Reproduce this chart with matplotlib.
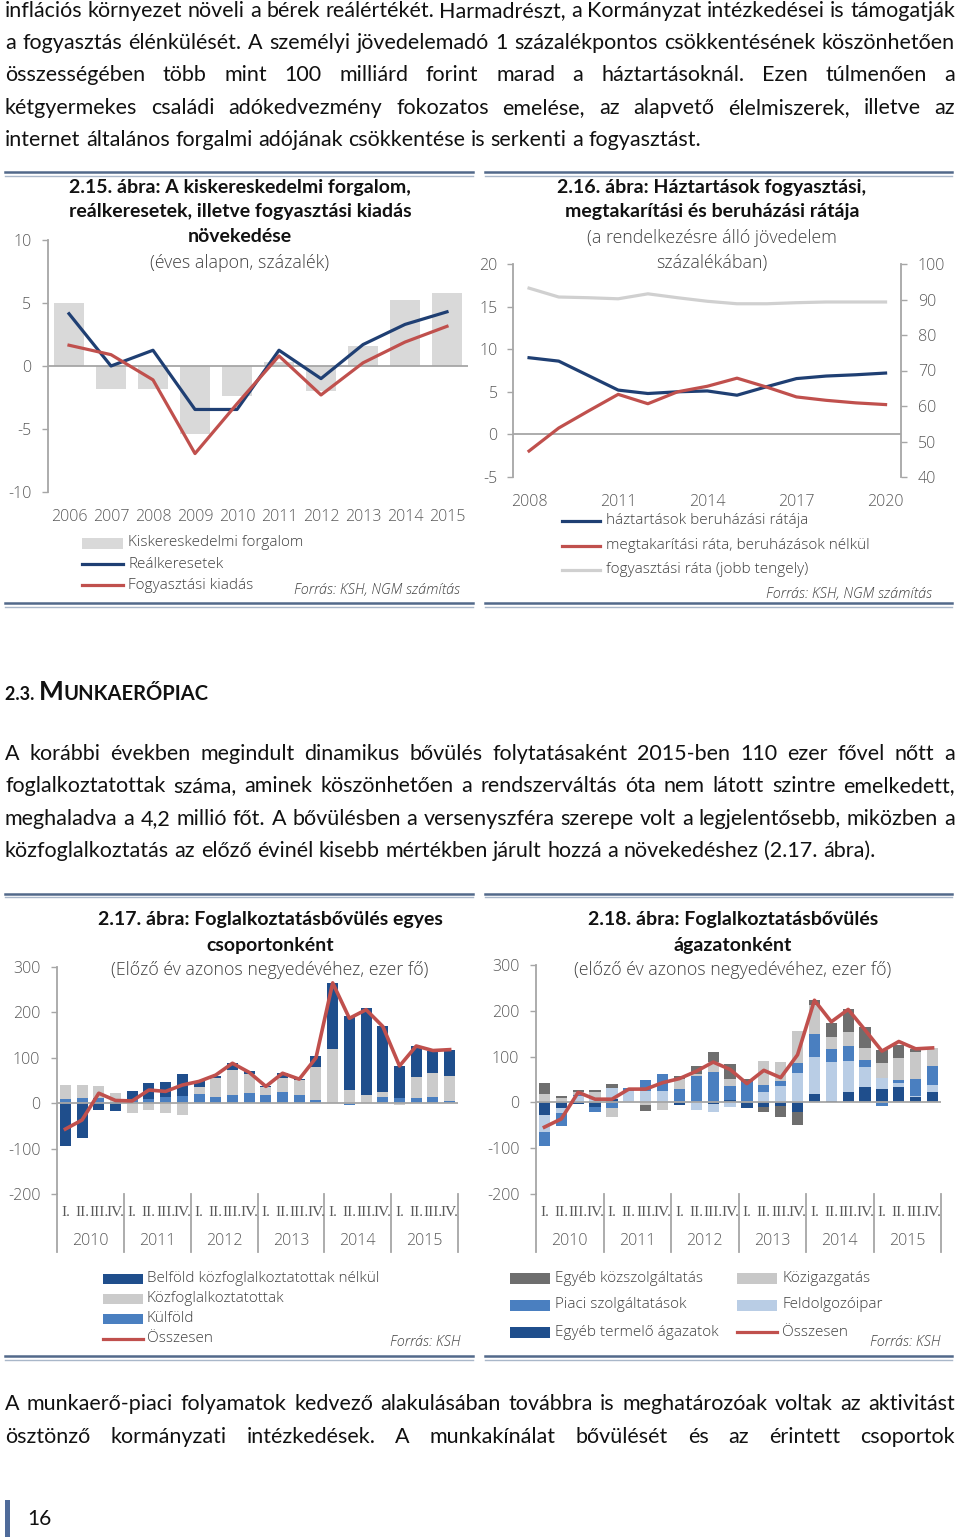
import numpy as np
import matplotlib
matplotlib.use("Agg")
import matplotlib.pyplot as plt
import matplotlib.transforms as mtrans
from matplotlib.patches import Rectangle
from matplotlib.lines import Line2D

plt.rcParams['font.family'] = ['Open Sans', 'DejaVu Sans']
plt.rcParams['font.weight'] = 'light'
plt.rcParams['axes.unicode_minus'] = False

W, H = 960, 1540
BODY = ['Lato', 'DejaVu Sans']
TXT = '#404040'
TICK = '#595959'
AXIS = '#a6a6a6'
NAVY = '#1f3f73'
RED = '#c0504d'
LEG = 11

# ---- 2.15: annual growth, %
years_15 = ['2006', '2007', '2008', '2009', '2010', '2011', '2012', '2013', '2014', '2015']
kiskereskedelmi = [5.0, -1.85, -1.8, -5.4, -2.4, 0.3, -2.0, 1.6, 5.2, 5.8]
realkeresetek = [4.15, 0.0, 1.25, -3.45, -3.45, 1.25, -1.0, 1.7, 3.3, 4.3]
fogyasztasi_kiadas = [1.65, 0.9, -1.1, -6.95, -3.0, 0.8, -2.3, 0.25, 1.9, 3.15]

# ---- 2.16: rates, % of disposable income
years_16 = [2008, 2009, 2010, 2011, 2012, 2013, 2014, 2015, 2016, 2017, 2018, 2019, 2020]
beruhazasi_rata = [9.0, 8.6, 6.9, 5.2, 4.8, 5.0, 5.1, 4.6, 5.6, 6.55, 6.85, 7.0, 7.2]
megtakaritasi_rata = [-1.95, 0.75, 2.75, 4.7, 3.6, 5.0, 5.65, 6.6, 5.55, 4.4, 4.0, 3.7, 3.5]
fogyasztasi_rata = [93.2, 90.7, 90.5, 90.2, 91.6, 90.5, 89.5, 88.8, 88.8, 89.1, 89.3, 89.3, 89.3]

# ---- quarterly axis for 2.17 / 2.18
quarters = ['I.', 'II.', 'III.', 'IV.'] * 6
q_years = ['2010', '2011', '2012', '2013', '2014', '2015']

# ---- 2.17: by group, thousand persons (stack order bottom -> top)
kulfold = [9, 11, 12, 2, 10, 10, 13, 16, 21, 13, 18, 22, 17, 24, 17, 7, 0, -5, 0, 13, 11, 11, 13, 5]
kozfoglalkoztatottak = [30, 28, 26, 20, -21, -15, -21, -25, 14, 42, 55, 42, 18, 31, 34, 72, 119, 28, 17, 11, -4, 46, 53, 55]
belfold = [-94, -76, -16, -18, 16, 34, 33, 49, 14, 6, 15, 7, 2, 11, 2, 25, 146, 163, 193, 147, 71, 68, 50, 58]
osszesen_17 = [-57, -37, 22, 6, 5, 29, 26, 40, 48, 62, 88, 68, 37, 66, 53, 100, 265, 187, 206, 169, 82, 126, 116, 118]

# ---- 2.18: by sector, thousand persons (stack order bottom -> top)
egyeb_termelo = [-27, -12, -3, -9, 8, 0, 0, 0, -5, 0, -3, 5, -13, -11, -7, -20, 18, 4, 23, 33, 30, 33, 12, 23]
feldolgozoipar = [-37, -12, 14, 7, 24, 24, 25, 24, 0, -16, -17, -11, 0, 23, 35, 65, 81, 84, 68, 45, 24, 9, 3, 16]
piaci_szolg = [-32, -27, 3, -12, -12, 8, 23, 37, 29, 58, 66, 30, 44, 15, 11, 20, 50, 29, 32, 14, -7, 7, 37, 41]
kozigazgatas = [19, 10, 6, 15, -20, 0, -6, -16, 22, 5, 22, 17, 0, 52, 42, 70, 63, 25, 31, 27, 31, 49, 57, 38]
egyeb_kozszolg = [23, 5, 5, 6, 8, 0, -12, 0, 7, 17, 23, 31, 8, -11, -25, -29, 11, 32, 50, 46, 30, 27, 7, 0]
osszesen_18 = [-54, -36, 22, 7, 7, 29, 29, 43, 52, 68, 88, 72, 41, 70, 54, 104, 223, 176, 203, 158, 112, 133, 117, 119]

para1 = [
    "inflációs környezet növeli a bérek reálértékét. Harmadrészt, a Kormányzat intézkedései is támogatják",
    "a fogyasztás élénkülését.  A személyi jövedelemadó 1 százalékpontos csökkentésének köszönhetően",
    "összességében több mint 100 milliárd forint marad a háztartásoknál. Ezen túlmenően a",
    "kétgyermekes családi adókedvezmény fokozatos emelése, az alapvető élelmiszerek, illetve az",
    "internet általános forgalmi adójának csökkentése is serkenti a fogyasztást.",
]
para2 = [
    "A korábbi években megindult dinamikus bővülés folytatásaként 2015-ben 110 ezer fővel nőtt a",
    "foglalkoztatottak száma, aminek köszönhetően a rendszerváltás óta nem látott szintre emelkedett,",
    "meghaladva a 4,2 millió főt. A bővülésben a versenyszféra szerepe volt a legjelentősebb, miközben a",
    "közfoglalkoztatás az előző évinél kisebb mértékben járult hozzá a növekedéshez (2.17. ábra).",
]
para3 = [
    "A munkaerő-piaci folyamatok kedvező alakulásában továbbra is meghatározóak voltak az aktivitást",
    "ösztönző kormányzati intézkedések. A munkakínálat bővülését és az érintett csoportok",
]

fig = plt.figure(figsize=(W / 100, H / 100), dpi=100)
fig.patch.set_facecolor('white')
rend = fig.canvas.get_renderer()


def ftext(x, y, s, **kw):
    return fig.text(x / W, 1 - y / H, s, **kw)


def px_axes(x0, y0, x1, y1):
    return fig.add_axes([x0 / W, 1 - y1 / H, (x1 - x0) / W, (y1 - y0) / H])


def width_of(s, size, **kw):
    t = ftext(0, 0, s, fontsize=size, **kw)
    w = t.get_window_extent(rend).width
    t.remove()
    return w


# body text size from the natural width of a non-justified line
body_size = 10 * 693 / width_of(para1[-1], 10, family=BODY, weight='normal')
space_w = (width_of('n n', body_size, family=BODY, weight='normal')
           - width_of('nn', body_size, family=BODY, weight='normal'))


def body_line(s, y, justify=True, x0=5, x1=955):
    words = s.split()
    ts = [ftext(x0, y, w, fontsize=body_size, family=BODY, weight='normal', va='center',
                color='#111111') for w in words]
    ws = [t.get_window_extent(rend).width for t in ts]
    gap = (x1 - x0 - sum(ws)) / (len(words) - 1) if justify else space_w
    x = x0
    for t, w in zip(ts, ws):
        t.set_x(x / W)
        x += w + gap


for i, line in enumerate(para1):
    body_line(line, 11 + i * 32.2, justify=(i < len(para1) - 1))
for i, line in enumerate(para2):
    body_line(line, 754 + i * 32.4, justify=(i < len(para2) - 1))
for i, line in enumerate(para3):
    body_line(line, 1404 + i * 33)

# heading with small caps
x = 5
for s, sz in [('2.3. ', 13), ('M', 19), ('UNKAERŐPIAC', 14.5)]:
    t = ftext(x, 700, s, fontsize=sz, family=BODY, weight='bold', va='baseline', color='#111111')
    x += t.get_window_extent(rend).width

# page number
fig.add_artist(Rectangle((5 / W, 1 - 1537 / H), 5 / W, 37 / H, transform=fig.transFigure,
                         color='#4f6b9a', lw=0))
ftext(27, 1519, '16', fontsize=15, family=BODY, weight='normal', va='center', color='#111111')


def rule(x0, x1, y):
    fig.add_artist(Line2D([x0 / W, x1 / W], [1 - y / H] * 2, transform=fig.transFigure,
                          color='#52698a', lw=1.8))
    fig.add_artist(Line2D([x0 / W, x1 / W], [1 - (y + 3.5) / H] * 2, transform=fig.transFigure,
                          color='#a9b7c9', lw=1.0))


for (a, b) in [(5, 473), (485, 952)]:
    rule(a, b, 172)
    rule(a, b, 603)
    rule(a, b, 894)
    rule(a, b, 1356)


def leg_patch(x, y, color, w=41, h=11):
    fig.add_artist(Rectangle((x / W, 1 - (y + h / 2) / H), w / W, h / H,
                             transform=fig.transFigure, color=color, lw=0))


def leg_line(x, y, color, w=41):
    fig.add_artist(Line2D([x / W, (x + w) / W], [1 - y / H] * 2, transform=fig.transFigure,
                          color=color, lw=2.3))


def title(cx, ys, lines, sub):
    for y, s in zip(ys, lines):
        ftext(cx, y, s, fontsize=14, family=BODY, weight='bold', ha='center', va='center',
              color='#111111')
    for y, s in sub:
        ftext(cx, y, s, fontsize=12.8, ha='center', va='center', color=TXT)


def source(x, y, s):
    ftext(x, y, s, fontsize=10.4, style='italic', ha='right', va='center', color=TXT)


def style_axis(ax, ypad=8):
    for k in ['top', 'right', 'bottom']:
        ax.spines[k].set_visible(False)
    ax.spines['left'].set_color(AXIS)
    ax.spines['left'].set_linewidth(1.3)
    ax.tick_params(axis='y', direction='out', length=4, width=1, color=AXIS,
                   labelcolor=TICK, labelsize=11.5, pad=ypad)
    ax.tick_params(axis='x', length=0, labelcolor=TICK, labelsize=11.5, pad=12)
    ax.set_facecolor('none')


# ================= 2.15 =================
ax = px_axes(48, 240, 468, 492)
xs = np.arange(len(years_15))
ax.bar(xs, kiskereskedelmi, 0.71, color='#d9d9d9', zorder=1)
ax.axhline(0, color=AXIS, lw=1.3, zorder=2)
ax.plot(xs, realkeresetek, color=NAVY, lw=2.3, zorder=3)
ax.plot(xs, fogyasztasi_kiadas, color=RED, lw=2.3, zorder=3)
ax.set_xlim(-0.5, 9.5)
ax.set_ylim(-10, 10)
ax.set_yticks([-10, -5, 0, 5, 10])
ax.set_xticks(xs)
ax.set_xticklabels(years_15)
style_axis(ax, ypad=8)

title(240, [187, 212, 237],
      ['2.15. ábra: A kiskereskedelmi forgalom,', 'reálkeresetek, illetve fogyasztási kiadás', 'növekedése'],
      [(263, '(éves alapon, százalék)')])
leg_patch(82, 543, '#d9d9d9')
leg_line(82, 564, NAVY)
leg_line(82, 585, RED)
for y, s in [(543, 'Kiskereskedelmi forgalom'), (564, 'Reálkeresetek'), (585, 'Fogyasztási kiadás')]:
    ftext(128, y, s, fontsize=LEG, va='center', color=TXT)
source(460, 590, 'Forrás: KSH, NGM számítás')

# ================= 2.16 =================
ax = px_axes(513, 264, 901, 477)
ax.axhline(0, color=AXIS, lw=1.3, zorder=1)
ax.plot(years_16, beruhazasi_rata, color=NAVY, lw=2.3, zorder=3)
ax.plot(years_16, megtakaritasi_rata, color=RED, lw=2.3, zorder=3)
ax.set_xlim(2007.46, 2020.52)
ax.set_ylim(-5, 20)
ax.set_yticks([-5, 0, 5, 10, 15, 20])
ax.set_xticks([2008, 2011, 2014, 2017, 2020])
style_axis(ax, ypad=7)
axr = ax.twinx()
axr.plot(years_16, fogyasztasi_rata, color='#d0d0d0', lw=2.3)
axr.set_ylim(40, 100)
axr.set_yticks([40, 50, 60, 70, 80, 90, 100])
for k in ['top', 'left', 'bottom']:
    axr.spines[k].set_visible(False)
axr.spines['right'].set_color(AXIS)
axr.spines['right'].set_linewidth(1.3)
axr.tick_params(axis='y', direction='out', length=4, width=1, color=AXIS,
                labelcolor=TICK, labelsize=11.5, pad=8)

title(712, [187, 212],
      ['2.16. ábra: Háztartások fogyasztási,', 'megtakarítási és beruházási rátája'],
      [(238, '(a rendelkezésre álló jövedelem'), (263, 'százalékában)')])
for y, c, s in [(521, NAVY, 'háztartások beruházási rátája'),
                (546, RED, 'megtakarítási ráta, beruházások nélkül'),
                (570, '#d0d0d0', 'fogyasztási ráta (jobb tengely)')]:
    leg_line(562, y, c, w=38)
    ftext(606, y, s, fontsize=LEG, va='center', color=TXT)
source(932, 594, 'Forrás: KSH, NGM számítás')


# ================= stacked quarterly charts =================
def stacked(ax, series, colors, total, y_top, y_bot):
    n = len(total)
    xq = np.arange(n)
    pos = np.zeros(n)
    neg = np.zeros(n)
    for vals, col in zip(series, colors):
        v = np.array(vals, float)
        base = np.where(v >= 0, pos, neg)
        ax.bar(xq, v, 0.66, bottom=base, color=col, zorder=2)
        pos += np.clip(v, 0, None)
        neg += np.clip(v, None, 0)
    ax.axhline(0, color=AXIS, lw=1.3, zorder=3)
    ax.plot(xq, total, color=RED, lw=2.6, zorder=4)
    ax.set_xlim(-0.5, n - 0.5)
    ax.set_ylim(-200, 300)
    ax.set_yticks([-200, -100, 0, 100, 200, 300])
    ax.set_xticks([])
    style_axis(ax, ypad=8)
    hpx = y_bot - y_top
    tr = mtrans.blended_transform_factory(ax.transData, ax.transAxes)
    for b in np.arange(-0.5, n, 4):
        ax.plot([b, b], [0, -58 / hpx], transform=tr, color=AXIS, lw=1.3, clip_on=False)
    for i, q in enumerate(quarters):
        ax.text(i, -18 / hpx, q, transform=tr, ha='center', va='center', fontsize=11,
                family=['Liberation Serif', 'DejaVu Serif'], weight='normal', color=TICK)
    for j, yl in enumerate(q_years):
        ax.text(j * 4 + 1.5, -47 / hpx, yl, transform=tr, ha='center', va='center',
                fontsize=11.5, color=TICK)


C_BEL = '#1f4e8c'
C_KOZ = '#cbcbcb'
C_KUL = '#4a7fc0'

ax = px_axes(57, 967, 458, 1194)
stacked(ax, [kulfold, kozfoglalkoztatottak, belfold], [C_KUL, C_KOZ, C_BEL], osszesen_17, 967, 1194)
title(270, [920, 945], ['2.17. ábra: Foglalkoztatásbővülés egyes', 'csoportonként'],
      [(970, '(Előző év azonos negyedévéhez, ezer fő)')])
for y, c, s in [(1279, C_BEL, 'Belföld közfoglalkoztatottak nélkül'),
                (1299, C_KOZ, 'Közfoglalkoztatottak'),
                (1319, C_KUL, 'Külföld')]:
    leg_patch(103, y, c, w=40, h=10)
    ftext(147, y, s, fontsize=LEG, va='center', color=TXT)
leg_line(103, 1339, RED, w=40)
ftext(147, 1339, 'Összesen', fontsize=LEG, va='center', color=TXT)
source(460, 1342, 'Forrás: KSH')

C_EKS = '#6e6e6e'
C_KIG = '#c8c8c8'
C_PIA = '#4a7fc0'
C_FEL = '#b9cde5'
C_ETA = '#1f4e8c'

ax = px_axes(536, 965, 941, 1194)
stacked(ax, [egyeb_termelo, feldolgozoipar, piaci_szolg, kozigazgatas, egyeb_kozszolg],
        [C_ETA, C_FEL, C_PIA, C_KIG, C_EKS], osszesen_18, 965, 1194)
title(733, [920, 945], ['2.18. ábra: Foglalkoztatásbővülés', 'ágazatonként'],
      [(970, '(előző év azonos negyedévéhez, ezer fő)')])
for x0, items in [(510, [(1278, C_EKS, 'Egyéb közszolgáltatás'), (1305, C_PIA, 'Piaci szolgáltatások'),
                         (1332, C_ETA, 'Egyéb termelő ágazatok')]),
                  (737, [(1278, C_KIG, 'Közigazgatás'), (1305, C_FEL, 'Feldolgozóipar')])]:
    for y, c, s in items:
        leg_patch(x0, y, c, w=40, h=11)
        ftext(x0 + 45, y, s, fontsize=LEG, va='center', color=TXT)
leg_line(737, 1332, RED, w=40)
ftext(782, 1332, 'Összesen', fontsize=LEG, va='center', color=TXT)
source(940, 1342, 'Forrás: KSH')

fig.savefig('out.png', dpi=100)
